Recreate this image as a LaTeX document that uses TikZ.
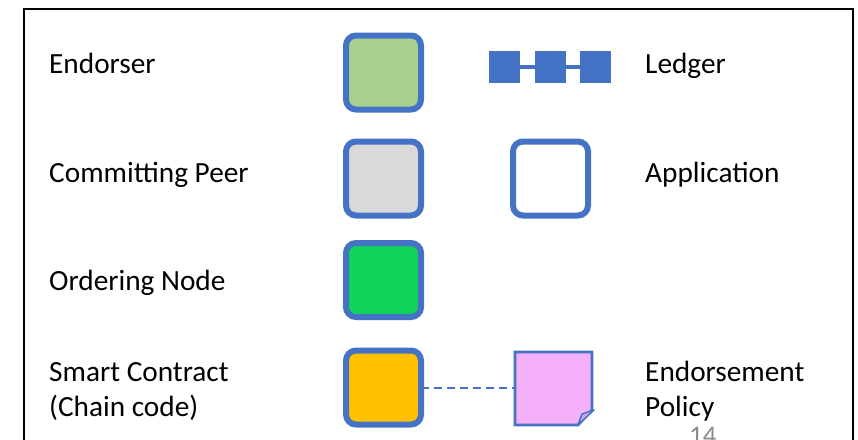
\documentclass[tikz,border=0pt]{standalone}
\usepackage{fontspec}
\setmainfont{Carlito}
\definecolor{ofblue}{HTML}{4472C4}
\definecolor{endgreen}{HTML}{A9D18E}
\definecolor{peergrey}{HTML}{D9D9D9}
\definecolor{ordgreen}{HTML}{12D35A}
\definecolor{scorange}{HTML}{FFC000}
\definecolor{polpink}{HTML}{F5B0FC}
\definecolor{pagegrey}{HTML}{8C8C8C}
\begin{document}
\begin{tikzpicture}[x=1pt,y=-1pt,
  iconbox/.style={draw=ofblue, line width=6pt, rounded corners=10pt, minimum width=75pt, minimum height=74pt, inner sep=0pt, outer sep=0pt},
  blk/.style={fill=ofblue, minimum width=31pt, minimum height=32pt, inner sep=0pt, outer sep=0pt},
  lbl/.style={anchor=base west, inner sep=0pt, align=left, font=\fontsize{29.3}{35.5}\selectfont},
]
\useasboundingbox (0,0) rectangle (858,439);
\clip (0,0) rectangle (858,439);
\fill[white] (0,0) rectangle (858,439);
% frame
\draw[line width=2pt] (24,450) -- (24,8.5) -- (853,8.5) -- (853,450);

% labels left (base anchor of a two-line label is the last line's baseline)
\node[lbl] (tEnd) at (49,73) {Endorser};
\node[lbl] (tPeer) at (49,182) {Committing Peer};
\node[lbl] (tOrd) at (49,290) {Ordering Node};
\node[lbl] (tSC) at (49,416.5) {Smart Contract\\(Chain code)};
% labels right
\node[lbl] (tLed) at (645,73) {Ledger};
\node[lbl] (tApp) at (645,182) {Application};
\node[lbl] (tPol) at (645,416.5) {Endorsement\\Policy};

% icons
\node[iconbox, fill=endgreen] (endo) at (383.5,72.5) {};
\node[iconbox, fill=peergrey] (peer) at (383.5,178.5) {};
\node[iconbox, fill=ordgreen] (ord) at (383.5,280) {};
\node[iconbox, fill=scorange] (sc) at (383.5,387.5) {};
\node[iconbox, fill=white] (app) at (550.5,178.5) {};

% ledger
\node[blk] (l1) at (504.5,66.7) {};
\node[blk] (l2) at (550.5,66.7) {};
\node[blk] (l3) at (595.5,66.7) {};
\draw[ofblue, line width=4pt] (l1) -- (l2) -- (l3);

% endorsement policy (note)
\node[minimum width=77pt, minimum height=73pt, inner sep=0pt, outer sep=0pt] (pol) at (553.5,388.5) {};
\draw[ofblue, line width=2.7pt, fill=polpink, line join=miter]
  (pol.north west) -- (pol.north east) -- ([yshift=15pt]pol.south east)
  -- ([xshift=-14pt]pol.south east) -- (pol.south west) -- cycle;
\draw[ofblue, line width=1.5pt, fill=polpink!80!ofblue, line join=round]
  ([xshift=-14pt]pol.south east) -- ([xshift=-10pt,yshift=11pt]pol.south east)
  -- ([xshift=2pt,yshift=15pt]pol.south east) -- cycle;
\draw[ofblue, line width=2pt, dash pattern=on 8pt off 5pt] (sc.east) -- (sc.east -| pol.west);

% page number
\node[anchor=base west, inner sep=0pt, text=pagegrey, font=\fontsize{27}{30}\selectfont] (pg) at (689,444) {14};
\end{tikzpicture}
\end{document}
